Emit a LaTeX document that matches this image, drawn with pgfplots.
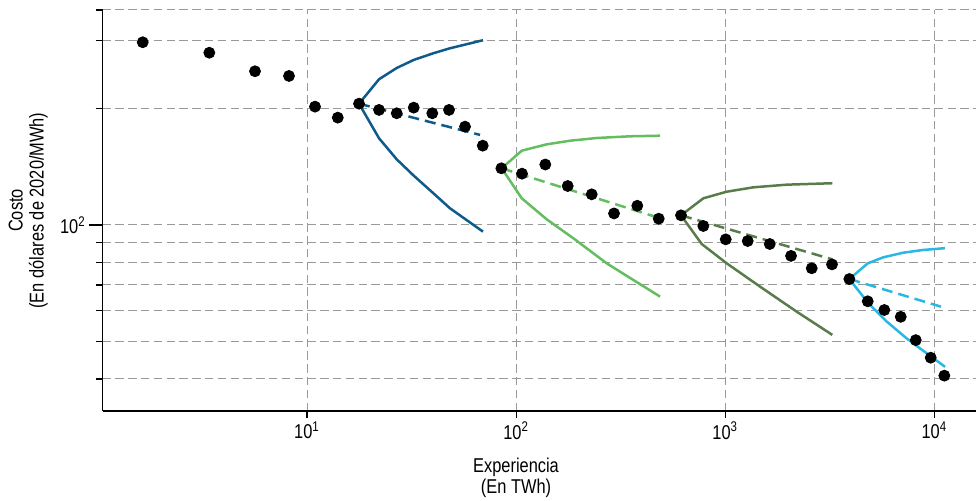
\documentclass[border=0pt]{standalone}
\usepackage{fontspec}
\setmainfont[FakeStretch=0.82]{Liberation Sans}
\usepackage{pgfplots}
\pgfplotsset{compat=1.18}
\definecolor{cblue}{HTML}{0E5A8A}
\definecolor{lgreen}{HTML}{63BE5F}
\definecolor{dgreen}{HTML}{587D4B}
\definecolor{ccyan}{HTML}{2BB7E3}
\begin{document}
\fontsize{10}{10.5}\selectfont
\begin{tikzpicture}
\begin{axis}[
  at={(0,0)}, anchor=south west,
  scale only axis, width=436.65pt, height=200.5pt,
  xmode=log, ymode=log,
  xmin=1.054, xmax=15826, ymin=33.06, ymax=359.4,
  axis x line*=bottom, axis y line*=left,
  axis line style={black, line width=0.6pt, -},
  xtick={10,100,1000,10000},
  xticklabels={10\textsuperscript{1},10\textsuperscript{2},10\textsuperscript{3},10\textsuperscript{4}},
  xminorticks=false,
  ytick={1000},
  minor ytick={40,50,60,70,80,90,200,300,359.4},
  extra y ticks={100},
  extra y tick labels={10\textsuperscript{2}},
  extra y tick style={grid=major, major tick length=7pt},
  xmajorgrids=true, yminorgrids=true,
  grid style={dash pattern=on 4.2pt off 2.2pt, color=gray!80, line width=0.5pt},
  tick align=outside,
  major tick length=3.5pt, minor tick length=3.5pt,
  tick style={black, line width=0.6pt},
  tick label style={font=\fontsize{10}{10.5}\selectfont},
  xticklabel style={yshift=1.5pt},
  yticklabel style={xshift=2pt},
  xlabel={Experiencia\\(En TWh)},
  xlabel style={at={(axis description cs:0.4733,0)}, anchor=north, yshift=-23.5pt, align=center, inner sep=0pt, font=\fontsize{10}{10.5}\selectfont},
  ylabel={Costo\\(En dólares de 2020/MWh)},
  ylabel style={at={(axis description cs:-0.0625,0.5)}, anchor=south, align=center, inner sep=0pt, font=\fontsize{10}{10.5}\selectfont},
  clip=false,
]
\addplot[only marks, mark=*, mark size=2.75pt, black] coordinates {
(1.638,296.6) (3.41,278.7) (5.64,249.6) (8.20,242.7) (10.92,202.2) (14.03,189.4)
(17.73,205.8) (22.10,198.3) (26.85,194.4) (32.38,201.0) (39.73,194.4) (47.76,198.3)
(56.96,179.5) (69.24,160.3) (84.99,140.1) (106.7,135.7) (137.9,143.3) (176.5,126.1)
(229.9,120.0) (293.9,107.1) (379.8,112.1) (480.8,103.8) (614.6,105.9) (785.9,99.4)
(1005.6,91.8) (1281,90.9) (1633,89.3) (2064,83.2) (2592,77.3) (3241,79.1)
(3923,72.5) (4803,63.5) (5766,60.3) (6909,57.9) (8151,50.4) (9612,45.4) (11164,40.8)
};
% blue
\addplot[cblue, line width=1.25pt, line join=round] coordinates {(17.73,205.8) (22.10,238.0) (26.85,254.5) (32.38,267.0) (40.18,277.8) (48.3,286.2) (69.46,300.2)};
\addplot[cblue, line width=1.25pt, line join=round] coordinates {(17.73,205.8) (22.10,167.5) (26.85,147.8) (32.38,134.1) (40.18,120.8) (48.3,110.4) (69.46,96.1)};
\addplot[cblue, line width=1.25pt, dash pattern=on 5.5pt off 3pt] coordinates {(17.73,205.8) (67.2,170.9)};
% light green
\addplot[lgreen, line width=1.25pt, line join=round] coordinates {(85.3,140.1) (106.4,155.6) (140.1,161.6) (181.1,165.1) (243.0,167.8) (350.5,169.5) (487.9,170.1)};
\addplot[lgreen, line width=1.25pt, line join=round] coordinates {(85.3,140.1) (106.4,117.2) (140.1,103.4) (187.8,92.4) (271.2,79.6) (363.5,72.1) (487.9,65.3)};
\addplot[lgreen, line width=1.25pt, dash pattern=on 5.5pt off 3pt] coordinates {(85.3,140.1) (487.9,104.1)};
% dark green
\addplot[dgreen, line width=1.25pt, line join=round] coordinates {(614.6,105.9) (785.9,117.2) (1016.7,121.9) (1362,125.1) (1968,127.1) (3252,128.2)};
\addplot[dgreen, line width=1.25pt, line join=round] coordinates {(614.6,105.9) (772,89.3) (1016.7,79.6) (1467,69.3) (2197,59.7) (3252,52.0)};
\addplot[dgreen, line width=1.25pt, dash pattern=on 5.5pt off 3pt] coordinates {(614.6,105.9) (3252,81.5)};
% cyan
\addplot[ccyan, line width=1.25pt, line join=round] coordinates {(3923,72.5) (4803,79.6) (5703,82.5) (7110,84.8) (8859,86.2) (11250,87.1)};
\addplot[ccyan, line width=1.25pt, line join=round] coordinates {(3923,72.5) (4835,62.8) (5920,56.3) (7379,50.9) (9195,46.6) (11250,43.0)};
\addplot[ccyan, line width=1.25pt, dash pattern=on 5.5pt off 3pt] coordinates {(3923,72.5) (10768,61.5)};
\end{axis}
\pgfresetboundingbox
\useasboundingbox (-51.35pt,-44.5pt) rectangle (436.65pt,205.5pt);
\end{tikzpicture}
\end{document}
